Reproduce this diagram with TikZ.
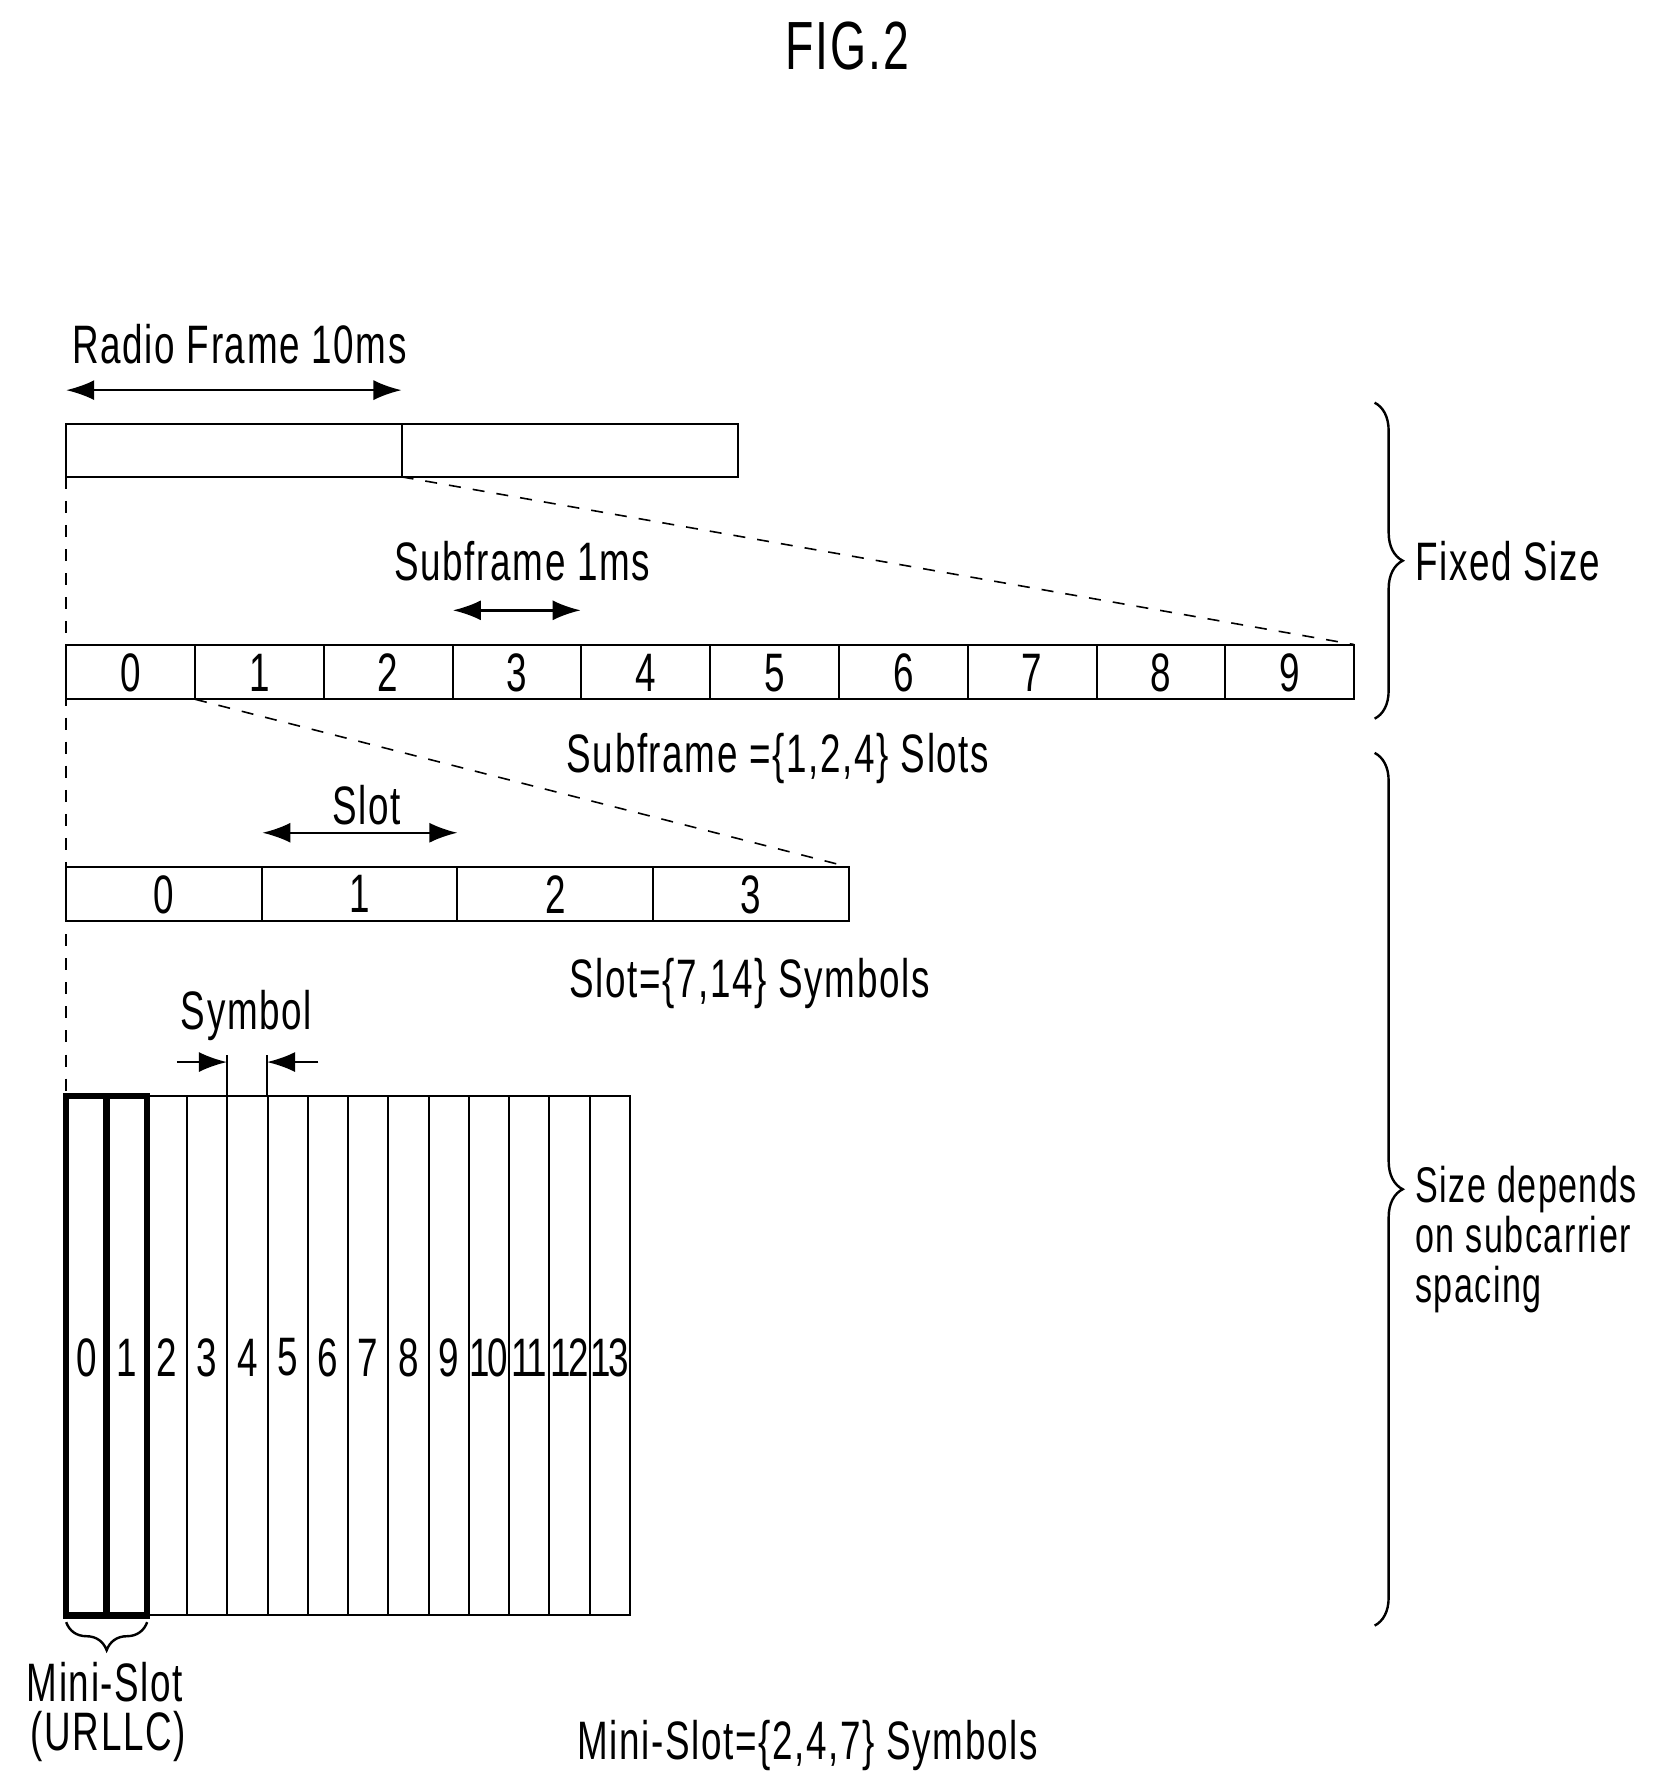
\documentclass[tikz,border=0pt]{standalone}
\usepackage{fontspec}
\setmainfont{Liberation Sans}[FakeStretch=0.68,LetterSpace=3]
\usetikzlibrary{calc,positioning,arrows.meta,decorations.pathreplacing}
\tikzset{
    lbl/.style={font=\fontsize{13.5}{15}\selectfont, inner sep=0pt},
    cell/.style={draw, line width=0.5pt},
    dim/.style={{Latex[length=7pt,width=5pt]}-{Latex[length=7pt,width=5pt]}, line width=0.6pt},
    tip/.style={-{Latex[length=7pt,width=5pt]}, line width=0.6pt},
    brc/.style={decorate, decoration={brace, amplitude=7pt}, line width=0.6pt},
  }
\begin{document}
\begin{tikzpicture}[x=0.01cm,y=-0.01cm]
      \useasboundingbox (0,0) rectangle (1470,1563);
      \node[lbl, font=\fontsize{17}{20}\selectfont] (fig) at (743,40) {FIG.2};

      % radio frame
      \draw[cell] (58,372) rectangle (352,418);
      \draw[cell] (352,372) rectangle (647,418);
      \coordinate (rf0) at (58,342);
      \coordinate (rf1) at (352,342);
      \draw[dim] (rf0) -- (rf1);
      \node[lbl] (rflbl) at (210,302) {Radio Frame 10ms};
      \draw[dashed] (352,418) -- (1187,565);
      \draw[dashed] (58,418) -- (58,960);

      % subframes
      \foreach \i in {0,...,9} {
        \draw[cell] ({58+\i*112.9},565) rectangle ({58+(\i+1)*112.9},613);
        \node[lbl] (sf\i) at ({58+(\i+0.5)*112.9},590) {\i};
      }
      \coordinate (sa) at (397,535);
      \coordinate (sb) at (509,535);
      \draw[dim] (sa) -- (sb);
      \node[lbl] (sflbl) at (458,492) {Subframe 1ms};
      \draw[dashed] (171,613) -- (744,760);
      \node[lbl] (sfslots) at (682,665) {Subframe =\{1,2,4\} Slots};

      % slots
      \foreach \i in {0,...,3} {
        \draw[cell] ({58+\i*171.5},760) rectangle ({58+(\i+1)*171.5},807);
        \node[lbl] (sl\i) at ({58+(\i+0.5)*171.5},784) {\i};
      }
      \coordinate (la) at (230,730);
      \coordinate (lb) at (401,730);
      \draw[dim] (la) -- (lb);
      \node[lbl] (sllbl) at (321,706) {Slot};
      \node[lbl] (slsym) at (657,862) {Slot=\{7,14\} Symbols};

      % symbols
      \foreach \i in {0,...,13} {
        \draw[cell] ({58+\i*35.3},961) rectangle ({58+(\i+1)*35.3},1416);
        \node[lbl, font=\fontsize{13.5}{15}\selectfont\addfontfeature{LetterSpace=-4}] (sy\i) at ({58+(\i+0.5)*35.3},1190) {\i};
      }
      \draw[line width=1.6pt] (58,961) rectangle (129,1416);
      \draw[line width=1.6pt] (93.3,961) -- (93.3,1416);
      \draw[cell] (199,961) -- (199,925);
      \draw[cell] (234,961) -- (234,925);
      \coordinate (ya) at (155,931);
      \coordinate (yb) at (279,931);
      \draw[tip] (ya) -- (199,931);
      \draw[tip] (yb) -- (234,931);
      \node[lbl] (sylbl) at (216,890) {Symbol};

      % mini-slot
      \draw[brc] (129,1422) -- (58,1422);
      \node[lbl] (mini) at (92,1475) {Mini-Slot};
      \node[lbl] (urllc) at (95,1522) {(URLLC)};
      \node[lbl] (minisym) at (708,1530) {Mini-Slot=\{2,4,7\} Symbols};

      % right braces
      \draw[brc] (1205,353) -- (1205,630);
      \node[lbl, anchor=west] (fixed) at (1240,492) {Fixed Size};
      \draw[brc] (1205,660) -- (1205,1425);
      \node[lbl, font=\fontsize{12.5}{14}\selectfont, anchor=base west] (dep1) at (1240,1054) {Size depends};
      \node[lbl, font=\fontsize{12.5}{14}\selectfont, anchor=base west] (dep2) at (1240,1098) {on subcarrier};
      \node[lbl, font=\fontsize{12.5}{14}\selectfont, anchor=base west] (dep3) at (1240,1142) {spacing};
\end{tikzpicture}
\end{document}
